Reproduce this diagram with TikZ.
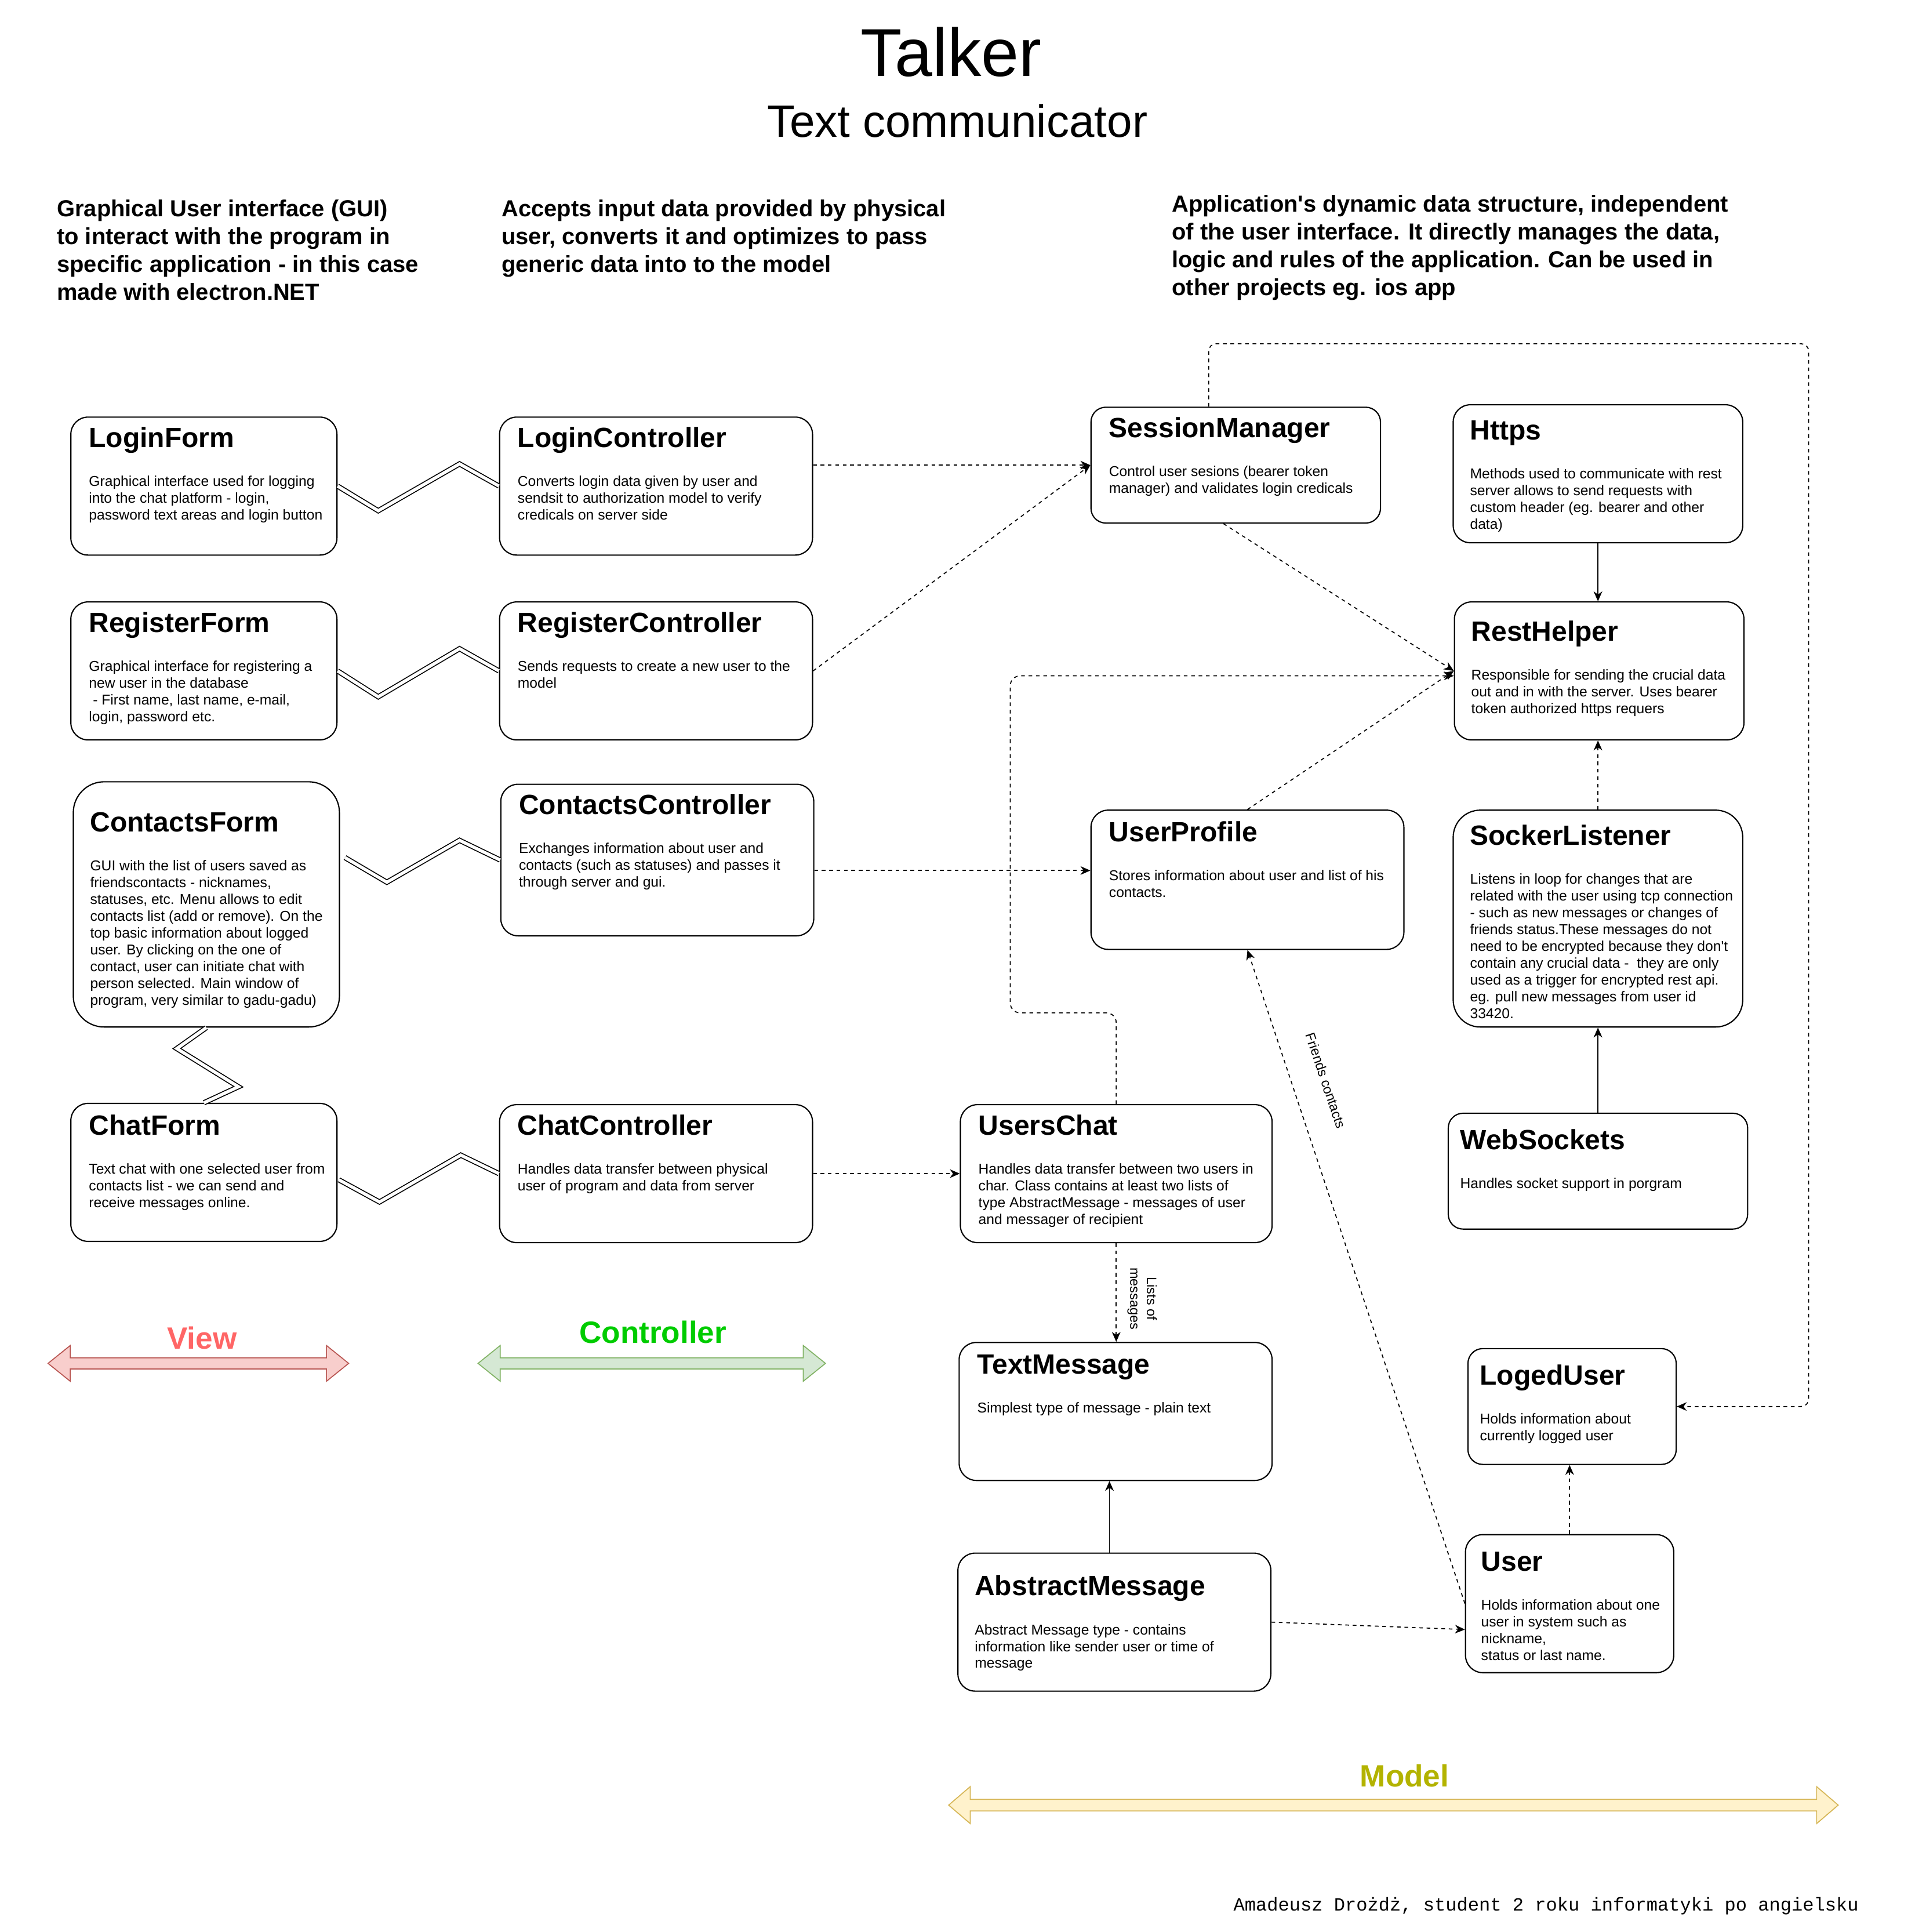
\documentclass[tikz,border=0pt]{standalone}
\usepackage{fontspec}
\setmainfont{Liberation Sans}
\newfontfamily\authorfont{Liberation Mono}
\usepackage{tikz}
\usepackage{xcolor}
\usetikzlibrary{arrows.meta}
\usetikzlibrary{calc}
\definecolor{viewred}{HTML}{FF6666}
\definecolor{viewfill}{HTML}{F8CECC}
\definecolor{viewline}{HTML}{B85450}
\definecolor{ctrlgreen}{HTML}{00CC00}
\definecolor{ctrlfill}{HTML}{D5E8D4}
\definecolor{ctrlline}{HTML}{82B366}
\definecolor{modelolive}{HTML}{B3B300}
\definecolor{modelfill}{HTML}{FFF2CC}
\definecolor{modelline}{HTML}{D6B656}

\begin{document}
\begin{tikzpicture}[x=1pt, y=-1pt,
    classbox/.style={draw, line width=1pt, rounded corners=14pt, anchor=north west, inner sep=0pt},
    boxtitle/.style={anchor=base west, inner sep=0pt, font=\fontsize{22.6}{27}\selectfont\bfseries},
    boxtext/.style={anchor=north west, inner sep=0pt, align=left, font=\fontsize{11.6}{13.62}\selectfont},
    header/.style={anchor=north west, inner sep=0pt, align=left, font=\fontsize{18.8}{22.6}\selectfont\bfseries},
    layer/.style={inner sep=0pt, font=\fontsize{25}{30}\selectfont\bfseries},
    link/.style={double, double distance=2.6pt, line width=0.8pt},
    dep/.style={line width=0.8pt, dash pattern=on 3pt off 3pt, -{Stealth[length=8pt, width=7pt, inset=2.5pt]}},
    uses/.style={line width=0.8pt, -{Stealth[length=8pt, width=7pt, inset=2.5pt]}},
    edgelabel/.style={inner sep=0pt, align=center, font=\fontsize{11}{13.6}\selectfont}]
            \useasboundingbox (0,0) rectangle (1554,1568);
            % title
            \node[font=\fontsize{55}{62}\selectfont] (talker) at (772,42){Talker};
            \node[font=\fontsize{36.8}{42}\selectfont] (subtitle) at (777,98){Text communicator};
            \node[header] (viewdesc) at (46,162){Graphical User interface (GUI)\\to interact with the program in\\specific application - in this case\\made with electron.NET};
            \node[header] (ctrldesc) at (407,162){Accepts input data provided by physical\\user, converts it and optimizes to pass\\generic data into to the model};
            \node[header] (modeldesc) at (951,158){Application\textquotesingle s dynamic data structure, independent\\of the user interface. It directly manages the data,\\logic and rules of the application. Can be used in\\other projects eg. ios app};
            % view
            \node[classbox, minimum width=216pt, minimum height=112pt] (loginform) at (57,338){};
            \node[boxtitle] (loginformT) at (72,363){LoginForm};
            \node[boxtext] (loginformB) at (72,386){Graphical interface used for logging\\into the chat platform - login,\\password text areas and login button};
            \node[classbox, minimum width=216pt, minimum height=112pt] (registerform) at (57,488){};
            \node[boxtitle] (registerformT) at (72,513){RegisterForm};
            \node[boxtext] (registerformB) at (72,536){Graphical interface for registering a\\new user in the database\\\ - First name, last name, e-mail,\\login, password etc.};
            \node[classbox, rounded corners=25pt, minimum width=216pt, minimum height=199pt] (contactsform) at (59,634){};
            \node[boxtitle] (contactsformT) at (73,675){ContactsForm};
            \node[boxtext] (contactsformB) at (73,698){GUI with the list of users saved as\\friendscontacts - nicknames,\\statuses, etc. Menu allows to edit\\contacts list (add or remove). On the\\top basic information about logged\\user. By clicking on the one of\\contact, user can initiate chat with\\person selected. Main window of\\program, very similar to gadu-gadu)};
            \node[classbox, minimum width=216pt, minimum height=112pt] (chatform) at (57,895){};
            \node[boxtitle] (chatformT) at (72,921){ChatForm};
            \node[boxtext] (chatformB) at (72,944){Text chat with one selected user from\\contacts list - we can send and\\receive messages online.};
            % controller
            \node[classbox, minimum width=254pt, minimum height=112pt] (logincontroller) at (405,338){};
            \node[boxtitle] (logincontrollerT) at (420,363){LoginController};
            \node[boxtext] (logincontrollerB) at (420,386){Converts login data given by user and\\sendsit to authorization model to verify\\credicals on server side};
            \node[classbox, minimum width=254pt, minimum height=112pt] (registercontroller) at (405,488){};
            \node[boxtitle] (registercontrollerT) at (420,513){RegisterController};
            \node[boxtext] (registercontrollerB) at (420,536){Sends requests to create a new user to the\\model};
            \node[classbox, minimum width=254pt, minimum height=123pt] (contactscontroller) at (406,636){};
            \node[boxtitle] (contactscontrollerT) at (421,661){ContactsController};
            \node[boxtext] (contactscontrollerB) at (421,684){Exchanges information about user and\\contacts (such as statuses) and passes it\\through server and gui.};
            \node[classbox, minimum width=254pt, minimum height=112pt] (chatcontroller) at (405,896){};
            \node[boxtitle] (chatcontrollerT) at (420,921){ChatController};
            \node[boxtext] (chatcontrollerB) at (420,944){Handles data transfer between physical\\user of program and data from server};
            % model
            \node[classbox, rounded corners=12pt, minimum width=235pt, minimum height=94pt] (sessionmanager) at (885,330){};
            \node[boxtitle] (sessionmanagerT) at (900,355){SessionManager};
            \node[boxtext] (sessionmanagerB) at (900,378){Control user sesions (bearer token\\manager) and validates login credicals};
            \node[classbox, minimum width=235pt, minimum height=112pt] (https) at (1179,328){};
            \node[boxtitle] (httpsT) at (1193,357){Https};
            \node[boxtext] (httpsB) at (1193,380){Methods used to communicate with rest\\server allows to send requests with\\custom header (eg. bearer and other\\data)};
            \node[classbox, minimum width=235pt, minimum height=112pt] (resthelper) at (1180,488){};
            \node[boxtitle] (resthelperT) at (1194,520){RestHelper};
            \node[boxtext] (resthelperB) at (1194,543){Responsible for sending the crucial data\\out and in with the server. Uses bearer\\token authorized https requers};
            \node[classbox, minimum width=254pt, minimum height=113pt] (userprofile) at (885,657){};
            \node[boxtitle] (userprofileT) at (900,683){UserProfile};
            \node[boxtext] (userprofileB) at (900,706){Stores information about user and list of his\\contacts.};
            \node[classbox, rounded corners=22pt, minimum width=235pt, minimum height=176pt] (sockerlistener) at (1179,657){};
            \node[boxtitle] (sockerlistenerT) at (1193,686){SockerListener};
            \node[boxtext] (sockerlistenerB) at (1193,709){Listens in loop for changes that are\\related with the user using tcp connection\\- such as new messages or changes of\\friends status.These messages do not\\need to be encrypted because they don\textquotesingle t\\contain any crucial data -~ they are only\\used as a trigger for encrypted rest api.\\eg. pull new messages from user id\\33420.};
            \node[classbox, rounded corners=12pt, minimum width=243pt, minimum height=94pt] (websockets) at (1175,903){};
            \node[boxtitle] (websocketsT) at (1185,933){WebSockets};
            \node[boxtext] (websocketsB) at (1185,956){Handles socket support in porgram};
            \node[classbox, minimum width=253pt, minimum height=112pt] (userschat) at (779,896){};
            \node[boxtitle] (userschatT) at (794,921){UsersChat};
            \node[boxtext] (userschatB) at (794,944){Handles data transfer between two users in\\char. Class contains at least two lists of\\type AbstractMessage - messages of user\\and messager of recipient};
            \node[classbox, minimum width=254pt, minimum height=112pt] (textmessage) at (778,1089){};
            \node[boxtitle] (textmessageT) at (793,1115){TextMessage};
            \node[boxtext] (textmessageB) at (793,1138){Simplest type of message - plain text};
            \node[classbox, minimum width=254pt, minimum height=112pt] (abstractmessage) at (777,1260){};
            \node[boxtitle] (abstractmessageT) at (791,1295){AbstractMessage};
            \node[boxtext] (abstractmessageB) at (791,1318){Abstract Message type - contains\\information like sender user or time of\\message};
            \node[classbox, rounded corners=12pt, minimum width=169pt, minimum height=94pt] (logeduser) at (1191,1094){};
            \node[boxtitle] (logeduserT) at (1201,1124){LogedUser};
            \node[boxtext] (logeduserB) at (1201,1147){Holds information about\\currently logged user};
            \node[classbox, minimum width=169pt, minimum height=112pt] (user) at (1189,1245){};
            \node[boxtitle] (userT) at (1202,1275){User};
            \node[boxtext] (userB) at (1202,1298){Holds information about one\\user in system such as\\nickname,\\status or last name.};
            % view - controller links
            \draw[link] (loginform.east) -- ++(33,20) -- ++(66,-38) -- (logincontroller.west);
            \draw[link] (registerform.east) -- ++(33,21) -- ++(66,-39) -- (registercontroller.west);
            \draw[link] ($(contactsform.east)+(4,-38)$) -- ++(34,20) -- ++(59,-34) -- (contactscontroller.west);
            \draw[link] (contactsform.south) -- ++(-24,17) -- ++(50,31) -- (chatform.north);
            \draw[link] ($(chatform.east)+(1,6)$) -- ++(33,18) -- ++(66,-38) -- (chatcontroller.west);
            % dependencies
            \draw[dep] (logincontroller.east |- sessionmanager.west) -- (sessionmanager.west);
            \draw[dep] (registercontroller.east) -- (sessionmanager.west);
            \draw[dep] ($(sessionmanager.south)+(-10,0)$) -- (resthelper.west);
            \draw[dep, rounded corners=8pt] (userschat.north) |- (820,822) |- ($(resthelper.west)+(0,4)$);
            \draw[dep] (userprofile.north) -- (resthelper.west);
            \draw[dep] ($(contactscontroller.east)+(0,8.5)$) -- ($(userprofile.west)+(0,-7.5)$);
            \draw[dep] (chatcontroller.east) -- (userschat.west);
            \draw[dep] (userschat.south) -- (userschat.south |- textmessage.north);
            \node[edgelabel, rotate=-90] (listslabel) at (927,1054){Lists of\\messages};
            \draw[uses] ($(abstractmessage.north)+(-4,0)$) -- ($(textmessage.south)+(-5,0)$);
            \draw[dep] (abstractmessage.east) -- ($(user.west)+(0,21)$);
            \draw[dep] (user.west) -- (userprofile.south);
            \node[edgelabel, rotate=-71.5] (friendslabel) at (1076,877){Friends contacts};
            \draw[dep] (user.north) -- (user.north |- logeduser.south);
            \draw[dep, rounded corners=6pt] ($(sessionmanager.north)+(-22,0)$) |- (1468,279) |- (logeduser.east);
            \draw[uses] (https.south) -- (https.south |- resthelper.north);
            \draw[dep] (sockerlistener.north) -- (sockerlistener.north |- resthelper.south);
            \draw[uses] (websockets.north) -- (websockets.north |- sockerlistener.south);
            % layers
            \draw[viewline, fill=viewfill, line width=0.8pt] (39,1106.5)--(57,1092)--(57,1102)--(265,1102)--(265,1092)--(283,1106.5)--(265,1121)--(265,1111)--(57,1111)--(57,1121)--cycle;
            \node[layer, text=viewred] (viewlabel) at (164,1086){View};
            \draw[ctrlline, fill=ctrlfill, line width=0.8pt] (388,1106.5)--(406,1092)--(406,1102)--(652,1102)--(652,1092)--(670,1106.5)--(652,1121)--(652,1111)--(406,1111)--(406,1121)--cycle;
            \node[layer, text=ctrlgreen] (ctrllabel) at (530,1081){Controller};
            \draw[modelline, fill=modelfill, line width=0.8pt] (770,1465)--(787.5,1450)--(787.5,1460.3)--(1474.5,1460.3)--(1474.5,1450)--(1492,1465)--(1474.5,1480)--(1474.5,1469.7)--(787.5,1469.7)--(787.5,1480)--cycle;
            \node[layer, text=modelolive] (modellabel) at (1140,1441){Model};
            \node[anchor=base west, inner sep=0pt, font=\authorfont\fontsize{15.1}{18}\selectfont] (author) at (1001,1551){Amadeusz Drożdż, student 2 roku informatyki po angielsku};
        \end{tikzpicture}
\end{document}
